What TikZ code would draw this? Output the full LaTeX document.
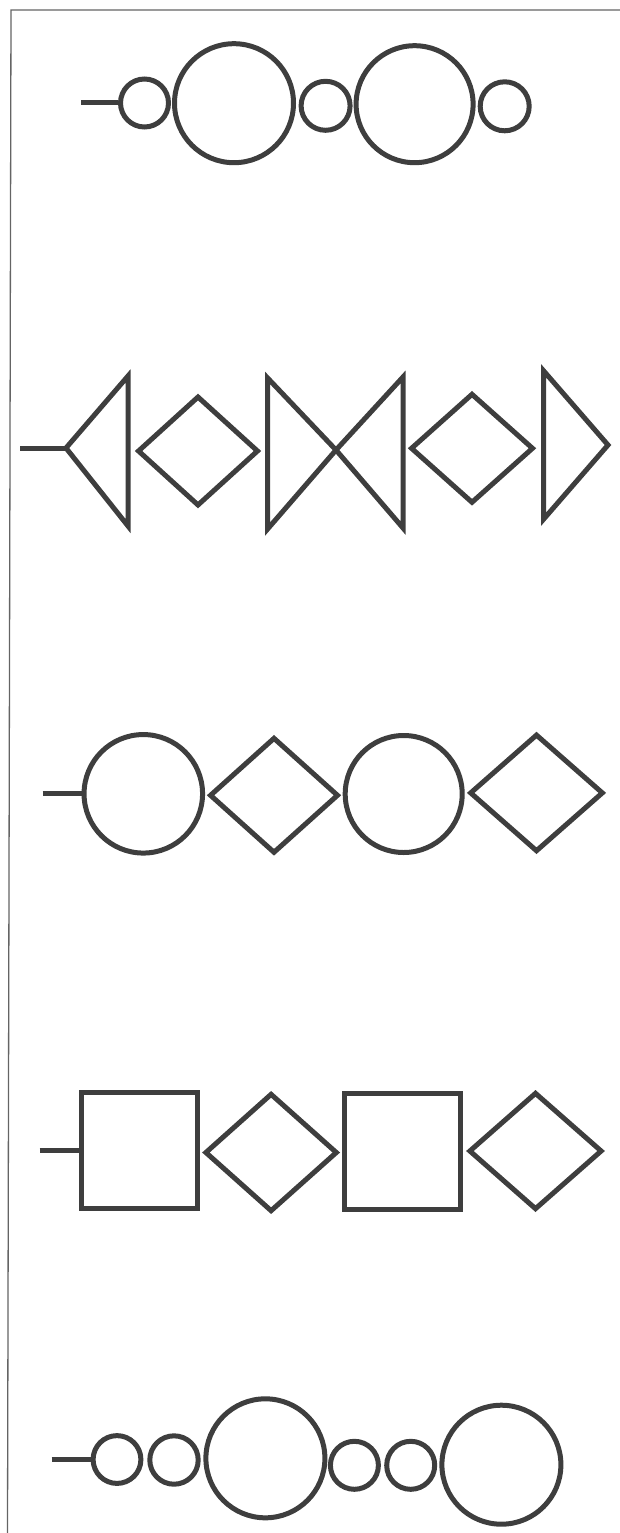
\documentclass[tikz,border=0pt]{standalone}
\usetikzlibrary{shapes.geometric}
\definecolor{ink}{RGB}{62,62,62}
\definecolor{framec}{RGB}{100,100,100}
\begin{document}
\begin{tikzpicture}[x=1pt,y=-1pt,
  shapeline/.style={draw=ink,line width=5pt},
  ring/.style={shapeline,circle,inner sep=0pt,minimum size=#1},
  rhomb/.style 2 args={shapeline,diamond,inner sep=0pt,minimum width=#1,minimum height=#2},
  sq/.style 2 args={shapeline,rectangle,inner sep=0pt,minimum width=#1,minimum height=#2},
  leadline/.style={draw=ink,line width=5pt},
  framel/.style={draw=framec,line width=1.3pt}]
\useasboundingbox (0,0) rectangle (620,1533);
% frame
\coordinate (ftr) at (620,10);
\coordinate (ftl) at (11,10);
\coordinate (fbl) at (7.5,1533);
\draw[framel] (ftr) -- (ftl) -- (fbl);

% row 1
\node[ring=48] (r1a) at (144.5,103) {};
\node[ring=119] (r1b) at (234,103.2) {};
\node[ring=49] (r1c) at (325.6,105.8) {};
\node[ring=117] (r1d) at (414.6,104.2) {};
\node[ring=49] (r1e) at (504.7,106.3) {};
\coordinate (l1) at (81,103);
\draw[leadline] (l1) -- (r1a.west);

% row 2
\coordinate (t1a) at (66,448);
\coordinate (t1t) at (128,376);
\coordinate (t1b) at (128,526);
\draw[shapeline] (t1a) -- (t1t) -- (t1b) -- cycle;
\node[rhomb={121}{110}] (d2a) at (198,451) {};
\coordinate (t2t) at (267.6,378);
\coordinate (t2b) at (267.6,529);
\coordinate (t2a) at (336,450);
\draw[shapeline] (t2t) -- (t2a) -- (t2b) -- cycle;
\coordinate (t3a) at (336,450);
\coordinate (t3t) at (403,377);
\coordinate (t3b) at (403,528);
\draw[shapeline] (t3a) -- (t3t) -- (t3b) -- cycle;
\node[rhomb={123}{110}] (d2b) at (472,448.3) {};
\coordinate (t4t) at (543.5,370.7);
\coordinate (t4b) at (543.5,519.3);
\coordinate (t4a) at (608,445);
\draw[shapeline] (t4t) -- (t4a) -- (t4b) -- cycle;
\coordinate (l2) at (20,448);
\draw[leadline] (l2) -- (t1a);

% row 3
\node[ring=118.5] (c3a) at (143.3,793.8) {};
\node[rhomb={129}{116}] (d3a) at (274,795.3) {};
\node[ring=117] (c3b) at (403.7,794) {};
\node[rhomb={133.7}{117.7}] (d3b) at (536.5,792.9) {};
\coordinate (l3) at (42.7,793.8);
\draw[leadline] (l3) -- (c3a.west);

% row 4
\node[sq={115.6}{116}] (s4a) at (139.3,1150.5) {};
\node[rhomb={132.5}{118.4}] (d4a) at (271.1,1152.5) {};
\node[sq={115.6}{116}] (s4b) at (402.2,1151.5) {};
\node[rhomb={133.3}{117.4}] (d4b) at (535.5,1151) {};
\coordinate (l4) at (39.5,1150.5);
\draw[leadline] (l4) -- (s4a.west);

% row 5
\node[ring=47.8] (c5a) at (117,1459.5) {};
\node[ring=48.4] (c5b) at (174,1460) {};
\node[ring=119] (c5c) at (265.4,1458.3) {};
\node[ring=48] (c5d) at (354.4,1465.3) {};
\node[ring=48] (c5e) at (410.7,1465.3) {};
\node[ring=119] (c5f) at (501.4,1464.7) {};
\coordinate (l5) at (51.5,1459.5);
\draw[leadline] (l5) -- (c5a.west);
\end{tikzpicture}
\end{document}
